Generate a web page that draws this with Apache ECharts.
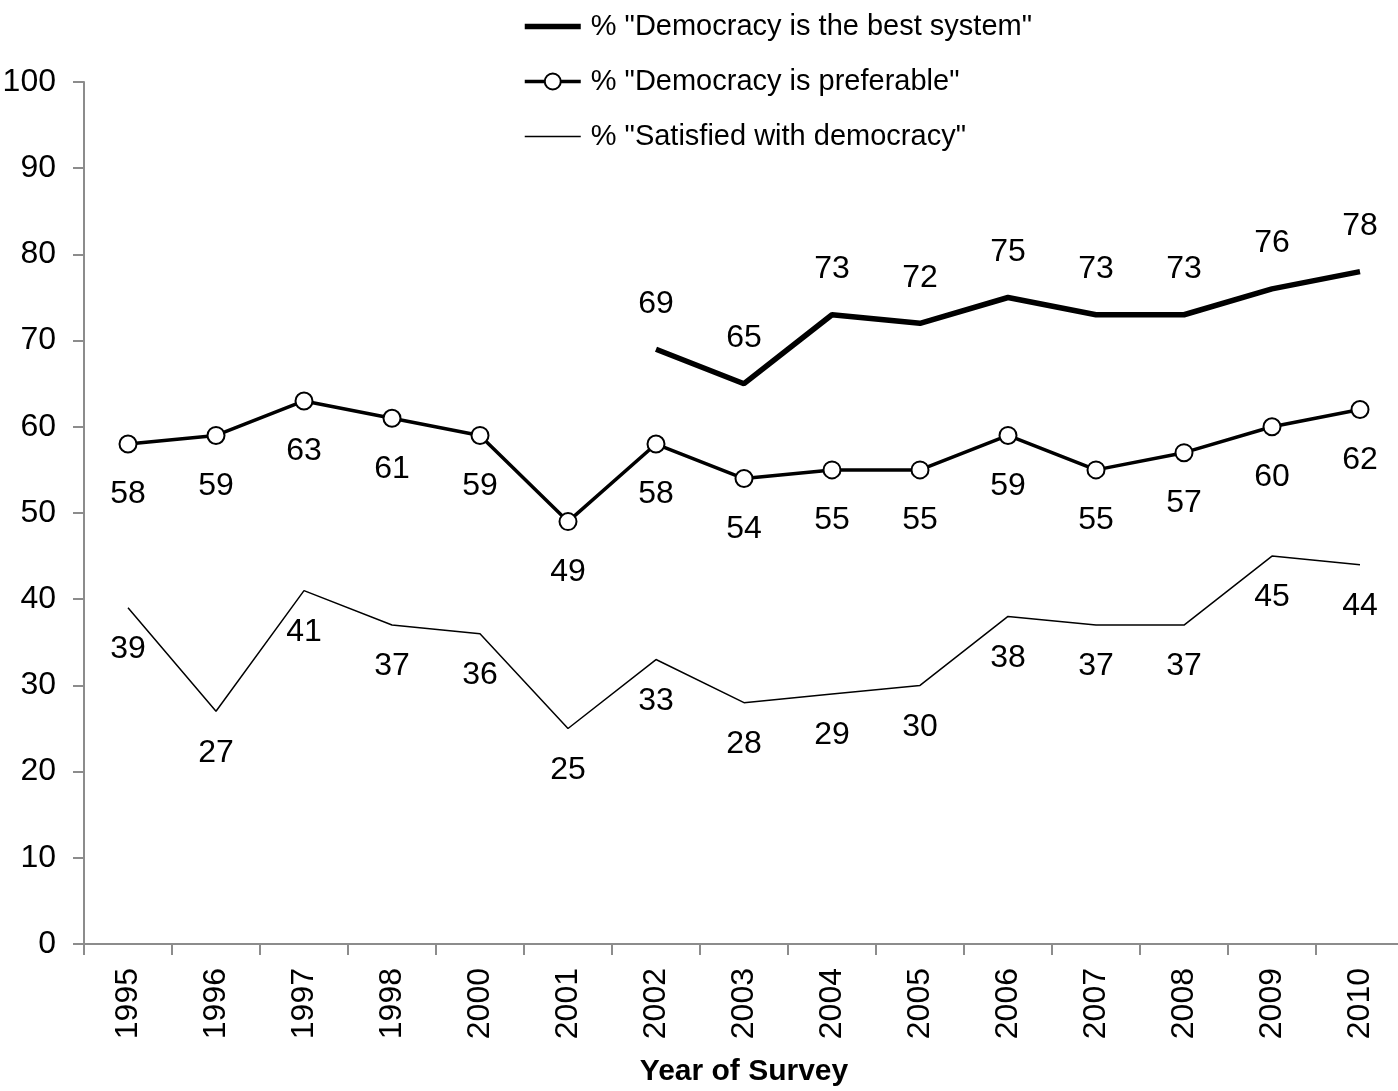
<!DOCTYPE html>
<html>
<head>
<meta charset="utf-8">
<script src="https://cdn.jsdelivr.net/npm/echarts@6/dist/echarts.min.js"></script>
<style>
  html, body { margin: 0; padding: 0; background: #fff; }
  #chart { width: 1398px; height: 1091px; }
</style>
</head>
<body>
<div id="chart"></div>
<script>
// survey years (no 1999)
const years = ['1995', '1996', '1997', '1998', '2000', '2001', '2002', '2003',
  '2004', '2005', '2006', '2007', '2008', '2009', '2010'];

// % "Democracy is the best system" (asked from 2002 on)
const bestSystem = [null, null, null, null, null, null, 69, 65, 73, 72, 75, 73, 73, 76, 78];
// % "Democracy is preferable"
const preferable = [58, 59, 63, 61, 59, 49, 58, 54, 55, 55, 59, 55, 57, 60, 62];
// % "Satisfied with democracy"
const satisfied = [39, 27, 41, 37, 36, 25, 33, 28, 29, 30, 38, 37, 37, 45, 44];

const yTicks = { min: 0, max: 100, interval: 10 };

const NAMES = ['% "Democracy is the best system"', '% "Democracy is preferable"', '% "Satisfied with democracy"'];
const WIDTHS = [5.5, 3.5, 1.5];

const FONT = "'Liberation Sans Narrow', 'Arial Narrow', 'Liberation Sans', Arial, sans-serif";
const AXIS_GREY = '#8c8c8c';
const HIDDEN = 'rgba(0,0,0,0)';

const chart = echarts.init(document.getElementById('chart'));

const labelStyle = (pos, dist) => ({
  show: true,
  position: pos,
  distance: dist,
  color: '#000',
  fontFamily: FONT,
  fontSize: 32
});

chart.setOption({
  animation: false,
  textStyle: { fontFamily: FONT, color: '#000' },
  grid: { left: 84, right: -6, top: 82, bottom: 147, containLabel: false, outerBoundsMode: 'none' },
  legend: {
    orient: 'vertical',
    left: 522,
    top: 12,
    padding: 0,
    itemWidth: 56,
    itemHeight: 20,
    itemGap: 26,
    textStyle: { fontFamily: FONT, fontSize: 29, color: '#000', padding: [0, 0, 0, 5] },
    data: [
      { name: NAMES[0], lineStyle: { width: WIDTHS[0], color: '#000' }, itemStyle: { color: HIDDEN, borderWidth: 0 } },
      { name: NAMES[1], lineStyle: { width: WIDTHS[1], color: '#000' }, itemStyle: { color: '#fff', borderColor: '#000', borderWidth: 2 } },
      { name: NAMES[2], lineStyle: { width: WIDTHS[2], color: '#000' }, itemStyle: { color: HIDDEN, borderWidth: 0 } }
    ]
  },
  xAxis: {
    type: 'category',
    data: years,
    boundaryGap: true,
    name: 'Year of Survey',
    nameLocation: 'middle',
    nameGap: 113,
    nameTextStyle: { fontFamily: FONT, fontSize: 30, fontWeight: 'bold', color: '#000' },
    axisLine: { lineStyle: { color: AXIS_GREY, width: 2 } },
    axisTick: { show: true, length: 11, lineStyle: { color: AXIS_GREY, width: 2 } },
    axisLabel: { rotate: 90, margin: 24, fontSize: 32, color: '#000', fontFamily: FONT, interval: 0 },
    splitLine: { show: false }
  },
  yAxis: {
    type: 'value',
    min: yTicks.min,
    max: yTicks.max,
    interval: yTicks.interval,
    axisLine: { show: true, lineStyle: { color: AXIS_GREY, width: 2 } },
    axisTick: { show: true, length: 11, lineStyle: { color: AXIS_GREY, width: 2 } },
    axisLabel: { margin: 28, fontSize: 32, color: '#000', fontFamily: FONT },
    splitLine: { show: false }
  },
  series: [
    {
      name: NAMES[0],
      type: 'line',
      data: bestSystem,
      symbol: 'circle',
      symbolSize: 1,
      lineStyle: { color: '#000', width: WIDTHS[0] },
      itemStyle: { color: HIDDEN, borderWidth: 0 },
      label: labelStyle('top', 29),
      z: 3
    },
    {
      name: NAMES[1],
      type: 'line',
      data: preferable,
      symbol: 'circle',
      symbolSize: 17,
      lineStyle: { color: '#000', width: WIDTHS[1] },
      itemStyle: { color: '#fff', borderColor: '#000', borderWidth: 2 },
      label: labelStyle('bottom', 25),
      z: 4
    },
    {
      name: NAMES[2],
      type: 'line',
      data: satisfied,
      symbol: 'circle',
      symbolSize: 1,
      lineStyle: { color: '#000', width: WIDTHS[2] },
      itemStyle: { color: HIDDEN, borderWidth: 0 },
      label: labelStyle('bottom', 25),
      z: 2
    }
  ]
});
</script>
</body>
</html>
